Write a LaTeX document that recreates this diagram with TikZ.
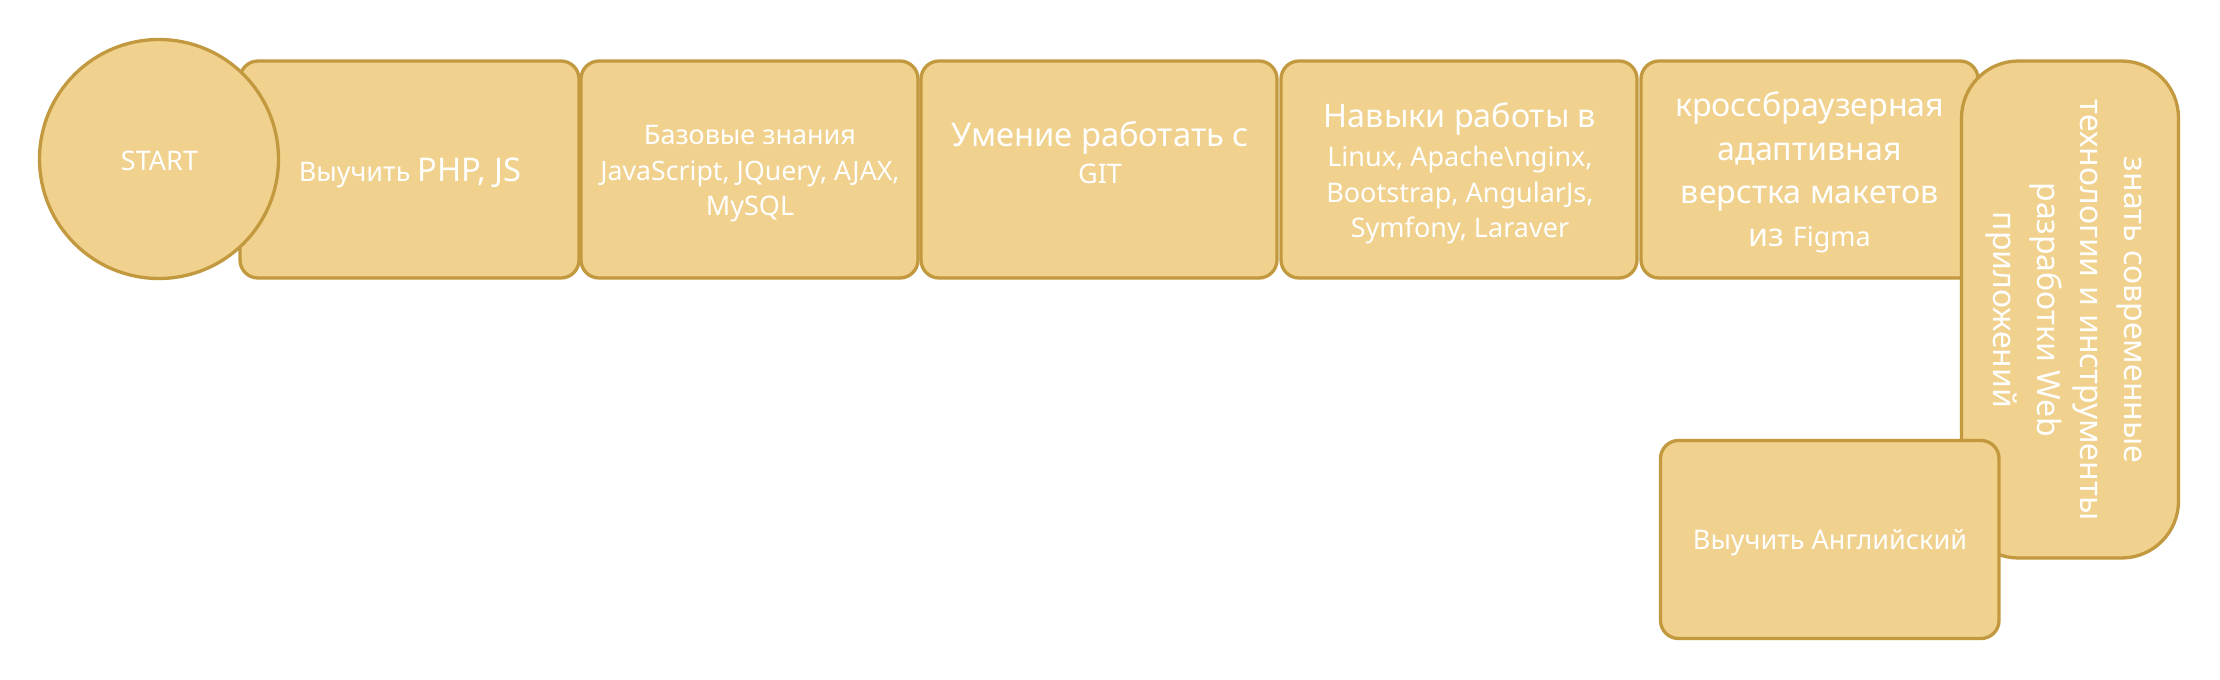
\documentclass[tikz,border=0pt]{standalone}
\usepackage{fontspec}
\setmainfont{Noto Sans}
\definecolor{fillc}{RGB}{240,209,142}
\definecolor{bord}{RGB}{194,153,62}
\newcommand{\fs}[1]{\fontsize{#1}{#1}\selectfont}
\begin{document}
\begin{tikzpicture}[x=1pt,y=-1pt,
  box/.style={draw=bord, fill=fillc, line width=3.3pt, rectangle, rounded corners=18pt, inner sep=0pt, outer sep=0pt},
  startc/.style={draw=bord, fill=fillc, line width=3.3pt, circle, inner sep=0pt, minimum size=239pt},
  txt/.style={text=white, inner sep=0pt, anchor=base}]
\useasboundingbox (0,0) rectangle (2220,680);
\fill[white] (0,0) rectangle (2220,680);
% row of boxes
\node[box, minimum width=339pt, minimum height=217pt] (b1) at (409.5,169.5) {};
\node[box, minimum width=337pt, minimum height=217pt] (b2) at (749.5,169.5) {};
\node[box, minimum width=356pt, minimum height=217pt] (b3) at (1099,169.5) {};
\node[box, minimum width=356pt, minimum height=217pt] (b4) at (1459,169.5) {};
\node[box, minimum width=337pt, minimum height=217pt] (b5) at (1809.5,169.5) {};
\node[box, rounded corners=57pt, minimum width=217pt, minimum height=497pt] (b6) at (2070,309.5) {};
\node[box, minimum width=338.5pt, minimum height=198pt] (b7) at (1829.75,539.5) {};
\node[startc] (s) at (159,159) {};
% texts
\node[txt] (ts) at (159.5,170) {\fs{27}START};
\node[txt] (t1) at (410,181.7) {\fs{27}Выучить \fs{32.7}PHP, JS};
\node[txt] (t2a) at (750,144) {\fs{27}Базовые знания};
\node[txt] (t2b) at (750,180) {\fs{26.7}JavaScript, JQuery, AJAX,};
\node[txt] (t2c) at (750,215.7) {\fs{27}MySQL};
\node[txt] (t3a) at (1100,146.7) {\fs{32.7}Умение работать с};
\node[txt] (t3b) at (1100,183.3) {\fs{27}GIT};
\node[txt] (t4a) at (1460,127.3) {\fs{32.3}Навыки работы в};
\node[txt] (t4b) at (1460,166) {\fs{27}Linux, Apache\textbackslash nginx,};
\node[txt] (t4c) at (1460,202.7) {\fs{27}Bootstrap, AngularJs,};
\node[txt] (t4d) at (1460,237.7) {\fs{27}Symfony, Laraver};
\node[txt] (t5a) at (1809.7,116.5) {\fs{32.2}кроссбраузерная};
\node[txt] (t5b) at (1809.7,160) {\fs{32.2}адаптивная};
\node[txt] (t5c) at (1809.7,203) {\fs{32.2}верстка макетов};
\node[txt] (t5d) at (1809.7,246.7) {\fs{32.2}из \fs{27}Figma};
\node[txt, rotate=-90] (t6a) at (2124,310) {\fs{32}знать современные};
\node[txt, rotate=-90] (t6b) at (2080.5,310) {\fs{32}технологии и инструменты};
\node[txt, rotate=-90] (t6c) at (2037,310) {\fs{32}разработки Web};
\node[txt, rotate=-90] (t6d) at (1993.5,310) {\fs{32}приложений};
\node[txt] (t7) at (1830,549.3) {\fs{27}Выучить Английский};
\end{tikzpicture}
\end{document}
